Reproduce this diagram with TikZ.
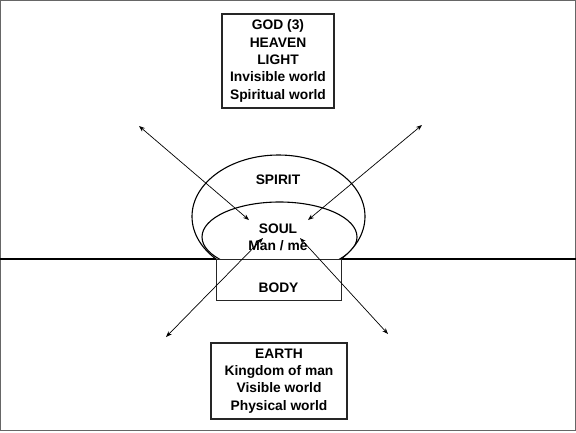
\documentclass[tikz,border=0pt]{standalone}
\usepackage{fontspec}
\setmainfont{Liberation Sans}
\usetikzlibrary{arrows.meta}
\tikzset{
  txt/.style={font=\fontsize{13.8}{17.3}\selectfont\bfseries, align=center, inner sep=0pt},
  framebox/.style={draw=black!85, line width=1.2pt, fill=white, txt},
  link/.style={line width=0.7pt, {Stealth[length=6pt,width=4.5pt]}-{Stealth[length=6pt,width=4.5pt]}},
  shape line/.style={line width=1.1pt}
}
\begin{document}
\begin{tikzpicture}[x=1pt,y=-1pt]
\useasboundingbox (0,0) rectangle (576,432);
\draw[black!60, line width=1pt] (0.5,0.8) rectangle (575.5,430.8);
% ground line
\coordinate (gl) at (0,259);
\coordinate (gr) at (576,259);
\draw[shape line] (gl) -- (gr);
% spirit (outer)
\draw[shape line, fill=white] (278.5,216.5) ellipse [x radius=86.5, y radius=61.5];
% soul (inner), clipped to the spirit
\begin{scope}
  \clip (278.5,216.5) ellipse [x radius=86.5, y radius=61.5];
  \clip (0,0) rectangle (576,259);
  \draw[shape line] (279.5,237) ellipse [x radius=77.5, y radius=35];
\end{scope}
% body
\node[framebox, minimum width=125pt, minimum height=41pt, anchor=north west] (body) at (216,259) {};
\node[txt] (bodylbl) at (278.5,288) {BODY};
\node[txt] (spirit) at (278,180) {SPIRIT};
\node[txt] (soul) at (278,237) {SOUL\\Man / me};
% top and bottom boxes
\node[framebox, minimum width=112pt, minimum height=94pt] (god) at (278,61)
  {GOD (3)\\HEAVEN\\LIGHT\\Invisible world\\Spiritual world};
\node[framebox, minimum width=136pt, minimum height=76pt] (earth) at (279,381)
  {EARTH\\Kingdom of man\\Visible world\\Physical world};
% arrows
\coordinate (a1s) at (139,126);
\coordinate (a1e) at (249,220);
\coordinate (a2s) at (422,125);
\coordinate (a2e) at (308,220);
\coordinate (a3s) at (166,337);
\coordinate (a3e) at (263,238);
\coordinate (a4s) at (388,334);
\coordinate (a4e) at (300,238);
\draw[link] (a1s) -- (a1e);
\draw[link] (a2s) -- (a2e);
\draw[link] (a3s) -- (a3e);
\draw[link] (a4s) -- (a4e);
\end{tikzpicture}
\end{document}
